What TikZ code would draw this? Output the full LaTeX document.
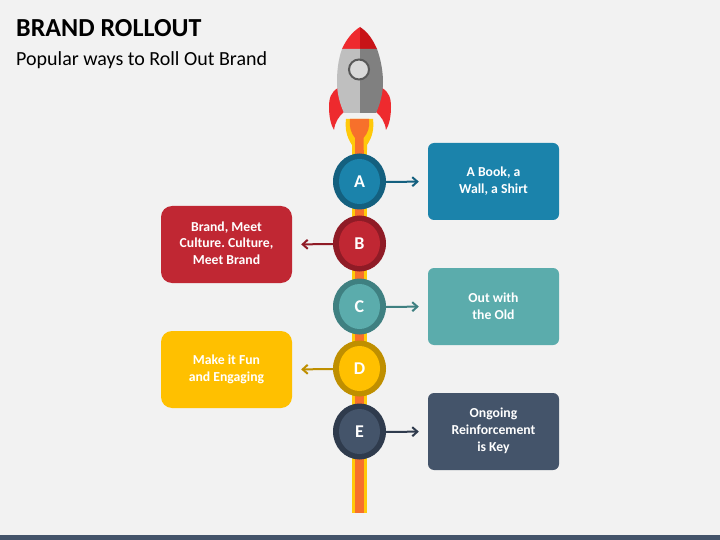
\documentclass[tikz,border=0pt]{standalone}
\usepackage{fontspec}
\setmainfont{Carlito}
\usetikzlibrary{arrows.meta}
\definecolor{bg}{HTML}{F2F2F2}
\definecolor{aF}{HTML}{1B83AB}\definecolor{aR}{HTML}{14607F}
\definecolor{bF}{HTML}{C02733}\definecolor{bR}{HTML}{8F1B26}
\definecolor{cF}{HTML}{5BACAC}\definecolor{cR}{HTML}{3F8081}
\definecolor{dF}{HTML}{FFC000}\definecolor{dR}{HTML}{BF8F00}
\definecolor{eF}{HTML}{44546A}\definecolor{eR}{HTML}{2F3B4D}
\definecolor{yel}{HTML}{FFC90A}\definecolor{ora}{HTML}{F7702B}
\definecolor{rocketR}{HTML}{EE2A2E}\definecolor{rocketD}{HTML}{C81318}
\tikzset{
  x=1pt,y=-1pt,
  box/.style={minimum width=131pt,minimum height=77pt,inner sep=0pt,align=center,text=white,font=\fontsize{13.7}{17}\selectfont\bfseries\frenchspacing},
  leftbox/.style={box,rounded corners=11pt},
  rightbox/.style={box,rounded corners=6pt},
  disc/.style={circle,inner sep=0pt,minimum size=41pt,text=white,font=\fontsize{18}{18}\selectfont\bfseries},
  link/.style={line width=2pt,-{Straight Barb[length=5pt,width=9pt,line width=2pt]},shorten >=9pt}
}
\newcommand{\stage}[6]{%
  \fill[#5] (359.5,#2) ellipse[x radius=26.5,y radius=28];
  \fill[#4] (359.5,#2) ellipse[x radius=20.5,y radius=22.5];
  \node[disc] (c#1) at (359.5,#2) {#3};
  \coordinate (e#1) at (#6,#2+0.5);
}
\begin{document}
\begin{tikzpicture}
\useasboundingbox (0,0) rectangle (720,540);
\fill[bg] (0,0) rectangle (720,540);
\fill[eF] (0,535) rectangle (720,540);
% titles
\node[anchor=base west,inner sep=0pt,font=\fontsize{26}{28}\selectfont\bfseries,text=black] (title) at (16,37) {BRAND ROLLOUT};
\node[anchor=base west,inner sep=0pt,font=\fontsize{20}{22}\selectfont,text=black] (sub) at (16,65.5) {Popular ways to Roll Out Brand};
% trail
\fill[yel] (352,140) rectangle (367,513);
\fill[ora] (355,140) rectangle (363.5,513);
% flame
\fill[yel] (346,119) -- (373,119) .. controls (374,128) and (373,136) .. (367,145) -- (367,150) -- (352,150) -- (352,145) .. controls (346,136) and (345,128) .. (346,119) -- cycle;
\fill[ora] (350,119) -- (369,119) .. controls (370,127) and (368,133) .. (363.5,138) -- (363.5,150) -- (355,150) -- (355,138) .. controls (351,133) and (349,127) .. (350,119) -- cycle;
% fins
\fill[rocketR] (338,88) .. controls (331,92) and (329,98) .. (329,107) .. controls (329,117) and (331,125) .. (334,130) .. controls (335,122) and (339,116) .. (344,112) -- cycle;
\fill[rocketR] (382,88) .. controls (389,92) and (391,98) .. (391,107) .. controls (391,117) and (389,125) .. (386,130) .. controls (385,122) and (381,116) .. (376,112) -- cycle;
% body
\fill[rocketR] (360,27) .. controls (352,32) and (346,40) .. (342,49) -- (360,49) -- cycle;
\fill[rocketD] (360,27) .. controls (368,32) and (373,40) .. (377,49) -- (360,49) -- cycle;
\fill[black!25!white] (342,49) .. controls (338,60) and (337,72) .. (337,82) .. controls (337,94) and (340,104) .. (344,113) -- (360,113) -- (360,49) -- cycle;
\fill[black!50!white] (377,49) .. controls (381,60) and (383,72) .. (383,82) .. controls (383,94) and (380,104) .. (376,113) -- (360,113) -- (360,49) -- cycle;
\fill[black!15!white,draw=black!65!white,line width=2pt] (359,69.5) circle[radius=10];
% stages
\stage{A}{181.5}{A}{aF}{aR}{386}
\stage{B}{243.5}{B}{bF}{bR}{333}
\stage{C}{306.5}{C}{cF}{cR}{386}
\stage{D}{368.5}{D}{dF}{dR}{333}
\stage{E}{431.5}{E}{eF}{eR}{386}
% boxes
\node[rightbox,fill=aF] (bA) at (493.5,181.5) {A Book, a\\Wall, a Shirt};
\node[leftbox,fill=bF] (bB) at (226.5,244.5) {\raisebox{1.5pt}{\begin{tabular}{@{}c@{}}Brand, Meet\\[-0.2pt]Culture. Culture,\\Meet Brand\end{tabular}}};
\node[rightbox,fill=cF] (bC) at (493.5,306.5) {Out with\\the Old};
\node[leftbox,fill=dF] (bD) at (226.5,369.5) {Make it Fun\\and Engaging};
\node[rightbox,fill=eF] (bE) at (493.5,431.5) {\raisebox{1pt}{\begin{tabular}{@{}c@{}}Ongoing\\Reinforcement\\is Key\end{tabular}}};
% connectors
\draw[link,aR] (eA) -- (bA.west);
\draw[link,bR] (eB) -- (bB.east);
\draw[link,cR] (eC) -- (bC.west);
\draw[link,dR] (eD) -- (bD.east);
\draw[link,eR] (eE) -- (bE.west);
\end{tikzpicture}
\end{document}
